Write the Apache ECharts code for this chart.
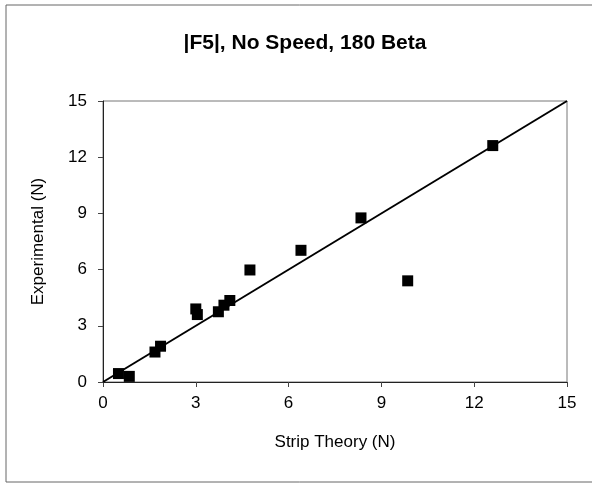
<!DOCTYPE html>
<html>
<head>
<meta charset="utf-8">
<script src="https://cdn.jsdelivr.net/npm/echarts@6/dist/echarts.min.js"></script>
<style>
  html, body { margin: 0; padding: 0; background: #fff; }
  #chart { width: 592px; height: 483px; }
</style>
</head>
<body>
<div id="chart"></div>
<script>
// Strip theory prediction vs. measured force magnitude (N)
const stripTheory = [0.5, 0.85, 1.68, 1.86, 3.0, 3.05, 3.73, 3.91, 4.1, 4.75, 6.4, 8.34, 9.85, 12.6];
const experimental = [0.45, 0.3, 1.6, 1.91, 3.9, 3.6, 3.75, 4.1, 4.35, 5.98, 7.03, 8.76, 5.4, 12.62];
// 1:1 reference line
const refLineX = [0, 15];
const refLineY = [0, 15];
const axisTicks = [0, 3, 6, 9, 12, 15];

const points = stripTheory.map((x, i) => [x, experimental[i]]);
const refLine = refLineX.map((x, i) => [x, refLineY[i]]);

const chart = echarts.init(document.getElementById('chart'), null, { renderer: 'canvas' });
const font = '"Liberation Sans", Arial, sans-serif';

const axisCommon = {
  type: 'value',
  min: axisTicks[0],
  max: axisTicks[axisTicks.length - 1],
  interval: 3,
  splitLine: { show: false },
  axisLine: { show: true, lineStyle: { color: '#222', width: 1 } },
  axisTick: { show: true, inside: false, length: 5, lineStyle: { color: '#444' } },
  axisLabel: { color: '#000', fontSize: 17, fontFamily: font },
  nameTextStyle: { color: '#000', fontSize: 17, fontFamily: font }
};

chart.setOption({
  animation: false,
  backgroundColor: '#fff',
  title: {
    text: '|F5|, No Speed, 180 Beta',
    left: 300,
    textAlign: 'center',
    top: 28,
    textStyle: { fontSize: 21, fontWeight: 'bold', color: '#000', fontFamily: font }
  },
  graphic: [{
    type: 'rect',
    shape: { x: 6, y: 5, width: 620, height: 477 },
    style: { fill: 'none', stroke: '#666', lineWidth: 1 },
    silent: true
  }],
  grid: {
    left: 103, right: 25, top: 101, bottom: 101,
    show: true, borderColor: '#777', borderWidth: 1, backgroundColor: 'transparent'
  },
  xAxis: Object.assign({}, axisCommon, {
    name: 'Strip Theory (N)',
    nameLocation: 'middle',
    nameGap: 52,
    axisLabel: Object.assign({}, axisCommon.axisLabel, { margin: 13 })
  }),
  yAxis: Object.assign({}, axisCommon, {
    name: 'Experimental (N)',
    nameLocation: 'middle',
    nameGap: 56,
    axisLabel: Object.assign({}, axisCommon.axisLabel, { margin: 16 })
  }),
  series: [
    {
      type: 'line',
      data: refLine,
      symbol: 'none',
      lineStyle: { color: '#000', width: 2 },
      silent: true,
      z: 2
    },
    {
      type: 'scatter',
      data: points,
      symbol: 'rect',
      symbolSize: 11,
      itemStyle: { color: '#000', opacity: 1 },
      z: 3
    }
  ]
});
</script>
</body>
</html>
